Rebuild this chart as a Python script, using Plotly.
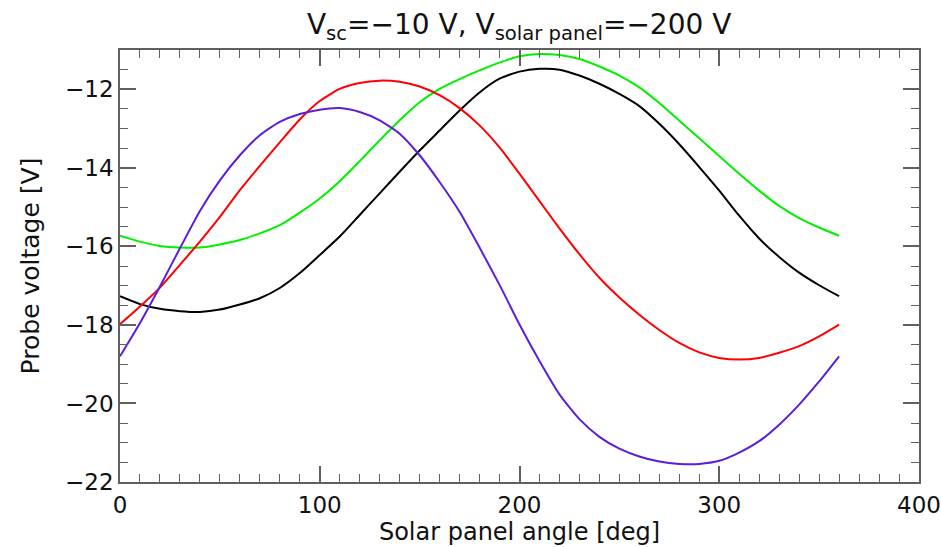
import plotly.graph_objects as go

# Solar panel angle samples [deg]
angle = list(range(0, 361, 10))

# Probe voltage [V] for each configuration
v_black = [-17.27, -17.47, -17.59, -17.65, -17.67, -17.61, -17.48, -17.32, -17.06, -16.68,
           -16.22, -15.75, -15.20, -14.65, -14.10, -13.56, -13.05, -12.54, -12.08, -11.73,
           -11.55, -11.48, -11.50, -11.65, -11.86, -12.12, -12.43, -12.88, -13.40, -13.98,
           -14.58, -15.22, -15.80, -16.27, -16.67, -16.99, -17.27]
v_green = [-15.73, -15.88, -15.99, -16.03, -16.03, -15.95, -15.84, -15.67, -15.46, -15.14,
           -14.78, -14.34, -13.83, -13.30, -12.79, -12.33, -11.99, -11.74, -11.52, -11.32,
           -11.16, -11.10, -11.13, -11.23, -11.42, -11.65, -11.95, -12.35, -12.80, -13.25,
           -13.70, -14.15, -14.58, -14.97, -15.28, -15.52, -15.73]
v_red = [-17.98, -17.53, -17.05, -16.47, -15.88, -15.25, -14.57, -13.95, -13.35, -12.77,
         -12.30, -11.99, -11.84, -11.78, -11.81, -11.93, -12.15, -12.48, -12.92, -13.48,
         -14.15, -14.85, -15.54, -16.20, -16.80, -17.30, -17.74, -18.13, -18.46, -18.70,
         -18.84, -18.88, -18.84, -18.71, -18.54, -18.29, -17.99]
v_blue = [-18.80, -17.95, -17.02, -16.05, -15.10, -14.32, -13.68, -13.17, -12.83, -12.63,
          -12.52, -12.48, -12.58, -12.79, -13.13, -13.68, -14.36, -15.12, -16.03, -16.98,
          -17.99, -18.92, -19.77, -20.40, -20.85, -21.15, -21.35, -21.48, -21.54, -21.54,
          -21.46, -21.25, -20.96, -20.54, -20.03, -19.44, -18.80]

series = [
    (v_black, "#000000"),
    (v_green, "#00F000"),
    (v_red, "#FF0000"),
    (v_blue, "#5A1EDC"),
]

fig = go.Figure()
for values, color in series:
    fig.add_trace(go.Scatter(x=angle, y=values, mode="lines",
                             line=dict(color=color, width=2, shape="spline", smoothing=0.6),
                             showlegend=False))

font_family = "DejaVu Sans"
axis_common = dict(
    showgrid=False, zeroline=False, automargin=False,
    showline=True, linecolor="#606060", linewidth=1.5, mirror="ticks",
    ticks="inside", ticklen=16, tickwidth=1.5, tickcolor="#606060",
    tickfont=dict(family=font_family, size=23, color="#111111"),
)

fig.update_xaxes(
    range=[0, 400], tickvals=[0, 100, 200, 300, 400], ticktext=["0", "100", "200", "300", "400"],
    minor=dict(dtick=10, ticks="inside", ticklen=8, tickwidth=1.2, tickcolor="#606060"),
    ticklabelstandoff=2,
    title=dict(text="Solar panel angle [deg]", font=dict(family=font_family, size=24, color="#111111"), standoff=6),
    **axis_common,
)
fig.update_yaxes(
    range=[-22, -11], tickvals=[-22, -20, -18, -16, -14, -12],
    ticktext=["\u221222", "\u221220", "\u221218", "\u221216", "\u221214", "\u221212"],
    minor=dict(dtick=0.5, ticks="inside", ticklen=8, tickwidth=1.2, tickcolor="#606060"),
    title=dict(text="Probe voltage [V]", font=dict(family=font_family, size=25, color="#111111"), standoff=18),
    **axis_common,
)

fig.update_layout(
    width=941, height=547,
    margin=dict(l=120, r=22, t=50, b=65),
    paper_bgcolor="white", plot_bgcolor="white",
    title=dict(text="V<sub>sc</sub>=\u221210 V, V<sub>solar panel</sub>=\u2212200 V",
               x=0.5517, xanchor="center", y=0.955, yanchor="middle",
               font=dict(family=font_family, size=28, color="#111111")),
)

fig.write_html("out.html")
